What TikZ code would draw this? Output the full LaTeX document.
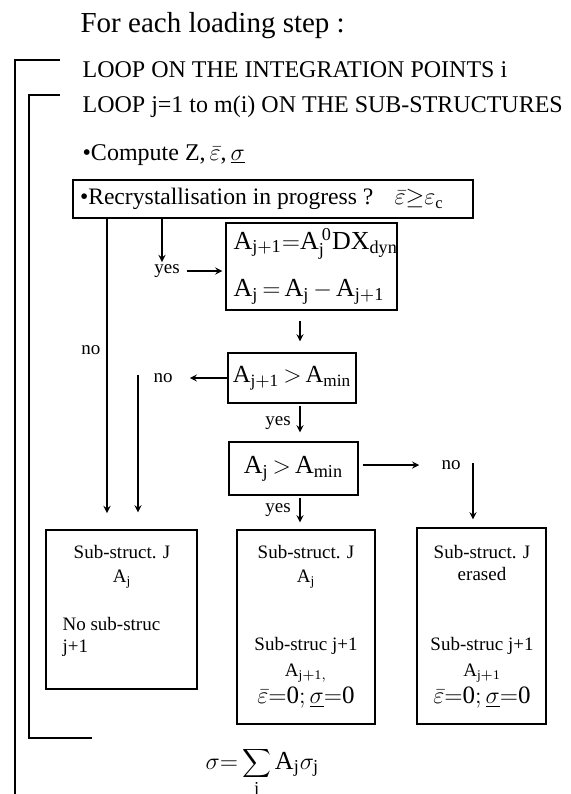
\documentclass[tikz,border=0pt]{standalone}
\usepackage{fontspec}
\setmainfont{Liberation Serif}
\usetikzlibrary{arrows}
\newcommand\fsz[1]{\fontsize{#1}{#1}\selectfont}
\begin{document}
\begin{tikzpicture}[x=0.5pt,y=-0.5pt,line width=0.6pt,>=stealth]
\tikzset{box/.style={draw,inner sep=0pt},
txt/.style={anchor=base west,inner sep=0pt,font=\fsz{12}},
lbl/.style={font=\fsz{9.5}},
eq/.style={font=\fsz{13}}
}
\useasboundingbox (0,0) rectangle (570,794);
% loop headings
\node[txt,font=\fsz{14.5}] (title) at (80,32) {For each loading step :};
\node[txt] (loopi) at (82,77) {LOOP ON THE INTEGRATION POINTS i};
\node[txt] (loopj) at (82,112) {LOOP j=1 to m(i) ON THE SUB-STRUCTURES};
\node[txt] (compute) at (82,160) {\textbullet Compute Z,\,$\bar{\varepsilon}$,\,$\underline{\sigma}$};
\draw (60,60) -- (15,60) -- (15,800);
\draw (60,95) -- (29,95) -- (29,738) -- (92,738);
% tests
\node[box,font=\fsz{11.8},minimum height=19pt,inner xsep=3.5pt] (recbox) at (273,199)
 {\makebox[193pt][l]{\textbullet Recrystallisation in progress ?\hspace{0.9em}$\bar{\varepsilon}{\geq}\varepsilon_{\mathrm{c}}$}};
\node[box,eq,minimum width=85.5pt,minimum height=43.5pt,align=left] (updbox) at (311.5,266.5)
 {\makebox[78pt][l]{$\mathrm{A_{j+1}{=}A_j^{\,0}DX_{dyn}}$}\\[9pt]\makebox[78pt][l]{$\mathrm{A_j\,{=}\,A_j\,{-}\,A_{j+1}}$}};
\node[box,eq,font=\fsz{12.3},minimum width=64pt,minimum height=25pt] (cond1) at (292,378) {$\mathrm{A_{j+1}\,{>}\,A_{min}}$};
\node[box,eq,minimum width=64.5pt,minimum height=26.5pt] (cond2) at (293.5,468.5) {$\mathrm{A_j\,{>}\,A_{min}}$};
% results
\node[box,minimum width=75.5pt,minimum height=79.5pt] (leftbox) at (121.5,609.5) {};
\node[box,minimum width=69pt,minimum height=97pt] (midbox) at (306,627) {};
\node[box,minimum width=64.5pt,minimum height=98pt] (rightbox) at (481.5,626) {};
\node[lbl] at (122,552) {Sub-struct. J};
\node[lbl] at (122,579) {$\mathrm{A_j}$};
\node[lbl,anchor=west,inner sep=0pt] at (62,624) {No sub-struc};
\node[lbl,anchor=west,inner sep=0pt] at (62,648) {j+1};
\node[lbl] at (306,552) {Sub-struct. J};
\node[lbl] at (306,579) {$\mathrm{A_j}$};
\node[lbl] at (482,552) {Sub-struct. J};
\node[lbl] at (482,574) {erased};
\foreach \bx/\sub in {306/{j+1,},482/{j+1}}{
 \node[lbl] at (\bx,646) {Sub-struc j+1};
 \node[lbl] at (\bx,673) {$\mathrm{A_{\sub}}$};
 \node[font=\fsz{12.5}] at (\bx,698) {$\bar{\varepsilon}{=}\mathrm{0};\underline{\sigma}{=}\mathrm{0}$};
}
% labels
\node[lbl] (yes1) at (167,271) {yes};
\node[lbl] (no1) at (91,350) {no};
\node[lbl] (no2) at (163,378) {no};
\node[lbl] (yes2) at (278,423) {yes};
\node[lbl] (no3) at (451,465) {no};
\node[lbl] (yes3) at (278,510) {yes};
\coordinate (axis) at (300,0);
\coordinate (yesin) at (162,262);
\coordinate (nol) at (107,513);
\coordinate (nor) at (138,375);
\coordinate (nodn) at (473,463);
% arrows
\draw[->] (recbox.south -| yesin) -- (yesin);
\draw[->,shorten >=1.5pt] (yes1.east) -- (updbox.west |- yes1);
\draw[->] (recbox.south -| nol) -- (nol);
\draw[->,shorten <=5pt,shorten >=5.5pt] (updbox.south -| axis) -- (cond1.north -| axis);
\draw[->,shorten >=5pt] (cond1.west) -- (no2.east);
\draw[->,shorten >=8.5pt] (nor) -- (nor |- leftbox.north);
\draw[->,shorten <=1pt,shorten >=4.5pt] (cond1.south -| axis) -- (cond2.north -| axis);
\draw[->,shorten <=2pt,shorten >=7.5pt] (cond2.east |- no3) -- (no3.west);
\draw[->,shorten >=4pt] (nodn) -- (nodn |- rightbox.north);
\draw[->,shorten <=1pt,shorten >=3.5pt] (cond2.south -| axis) -- (midbox.north -| axis);
% sum over the sub-structures
\node[txt,font=\fsz{13}] (sum) at (205,769) {$\sigma{=}\displaystyle\sum_{\mathrm{j}}\mathrm{A_j}\sigma_{\mathrm{j}}$};
\end{tikzpicture}
\end{document}
